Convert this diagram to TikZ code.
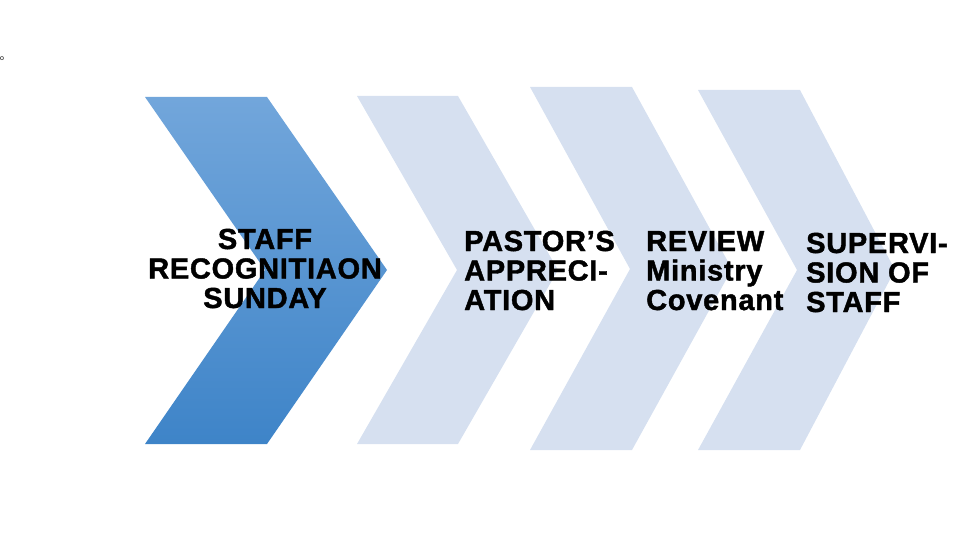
\documentclass[tikz,border=0pt]{standalone}
\usepackage{fontspec}
\setmainfont{Liberation Sans}[BoldFeatures={FakeBold=1.5}, LetterSpace=2.5]
\usepackage{xcolor}
\definecolor{chevlight}{RGB}{214,224,240}
\definecolor{chevtop}{RGB}{114,166,219}
\definecolor{chevbot}{RGB}{62,132,200}

\begin{document}
\begin{tikzpicture}[x=1pt, y=-1pt,
    steplabel/.style={inner sep=0pt, font=\bfseries\fontsize{29}{29.5}\selectfont},
  ]
      \useasboundingbox (0,0) rectangle (960,540);
      \node (mark) [inner sep=0pt, anchor=west, font=\fontsize{7}{7}\selectfont] at (0,59) {o};
      % chevrons
      \shade[top color=chevtop, bottom color=chevbot]
        (145,97) -- (267,97) -- (387,270) -- (267,444) -- (145,444) -- (265,270) -- cycle;
      \fill[chevlight] (357,96) -- (458,96) -- (558,270) -- (458,444) -- (357,444) -- (457,270) -- cycle;
      \fill[chevlight] (530,87) -- (632,87) -- (732,269) -- (632,450) -- (530,450) -- (630,269) -- cycle;
      \fill[chevlight] (698,90) -- (800,90) -- (895,270) -- (800,450) -- (698,450) -- (797,270) -- cycle;
      % labels (base = last line)
      \node (staff) [steplabel, align=center, anchor=base] at (265,308)
        {STAFF\\RECOGNITIAON\\SUNDAY};
      \node (pastor) [steplabel, align=left, anchor=base west] at (464,310)
        {PASTOR’S\\APPRECI-\\ATION};
      \node (review) [steplabel, align=left, anchor=base west] at (646,310)
        {REVIEW\\Ministry\\Covenant};
      \node (superv) [steplabel, align=left, anchor=base west] at (806,312)
        {SUPERVI-\\SION OF\\STAFF};
    \end{tikzpicture}
\end{document}
